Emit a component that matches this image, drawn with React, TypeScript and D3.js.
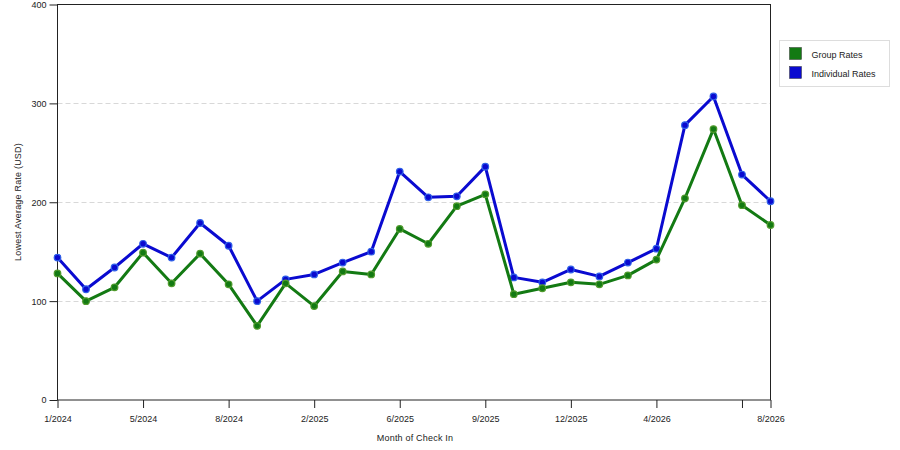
import { useEffect, useRef } from "react";
import * as d3 from "d3";

const months = [
  "1/2024", "3/2024", "4/2024", "5/2024", "6/2024", "7/2024", "8/2024",
  "10/2024", "12/2024", "2/2025", "3/2025", "5/2025", "6/2025", "7/2025",
  "8/2025", "9/2025", "10/2025", "11/2025", "12/2025", "1/2026", "3/2026",
  "4/2026", "5/2026", "6/2026", "7/2026", "8/2026",
];

const groupRates = [
  128, 100, 114, 149, 118, 148, 117, 75, 118, 95, 130, 127, 173, 158, 196,
  208, 107, 113, 119, 117, 126, 142, 204, 274, 197, 177,
];

const individualRates = [
  144, 112, 134, 158, 144, 179, 156, 100, 122, 127, 139, 150, 231, 205, 206,
  236, 124, 119, 132, 125, 139, 153, 278, 307, 228, 201,
];

const tickMonths = [
  "1/2024", "5/2024", "8/2024", "2/2025", "6/2025", "9/2025", "12/2025",
  "4/2026", "7/2026", "8/2026",
];
const hiddenTickLabels = ["7/2026"];
const yTicks = [0, 100, 200, 300, 400];

const series = [
  { name: "Individual Rates", values: individualRates, color: "#0a0ad0", dot: "#2f5fe8" },
  { name: "Group Rates", values: groupRates, color: "#137a13", dot: "#4f9a2c" },
];
const legendOrder = ["Group Rates", "Individual Rates"];

export default function App() {
  const svgRef = useRef<SVGSVGElement>(null);
  const width = 900;
  const height = 450;
  const margin = { top: 4.5, right: 130, bottom: 50, left: 57.5 };

  useEffect(() => {
    const svg = d3.select(svgRef.current);
    svg.selectAll("*").remove();
    const font = "'Liberation Sans', Arial, sans-serif";

    const x = d3
      .scalePoint<string>()
      .domain(months)
      .range([margin.left, width - margin.right + 0.5]);
    const y = d3
      .scaleLinear()
      .domain([0, 400])
      .range([height - margin.bottom, margin.top]);

    // grid
    svg
      .append("g")
      .selectAll("line")
      .data(yTicks.filter((t) => t > 0 && t < 400))
      .join("line")
      .attr("x1", margin.left)
      .attr("x2", width - margin.right)
      .attr("y1", (d) => Math.round(y(d)) + 0.5)
      .attr("y2", (d) => Math.round(y(d)) + 0.5)
      .attr("stroke", "#d8d8d8")
      .attr("stroke-dasharray", "5,3");

    // frame
    svg
      .append("rect")
      .attr("x", margin.left)
      .attr("y", margin.top)
      .attr("width", width - margin.right + 0.5 - margin.left)
      .attr("height", height - margin.bottom - margin.top)
      .attr("fill", "none")
      .attr("stroke", "#222");

    // y axis
    const yAxis = svg
      .append("g")
      .attr("transform", `translate(${margin.left},0)`)
      .call(d3.axisLeft(y).tickValues(yTicks).tickSize(8).tickPadding(3));
    yAxis.select(".domain").remove();
    yAxis.selectAll("line").attr("stroke", "#222");
    yAxis
      .selectAll("text")
      .attr("font-family", font)
      .attr("font-size", 9)
      .attr("fill", "#222");

    // x axis
    const xAxis = svg
      .append("g")
      .attr("transform", `translate(0,${height - margin.bottom})`)
      .call(
        d3
          .axisBottom(x)
          .tickValues(tickMonths)
          .tickSize(8)
          .tickPadding(8)
          .tickFormat((d) => (hiddenTickLabels.includes(d) ? "" : d))
      );
    xAxis.select(".domain").remove();
    xAxis.selectAll("line").attr("stroke", "#222");
    xAxis
      .selectAll("text")
      .attr("font-family", font)
      .attr("font-size", 9)
      .attr("fill", "#222");

    // lines + dots
    const line = d3
      .line<number>()
      .x((_, i) => x(months[i]) ?? 0)
      .y((d) => y(d));

    series.forEach((s) => {
      svg
        .append("path")
        .datum(s.values)
        .attr("d", line)
        .attr("fill", "none")
        .attr("stroke", s.color)
        .attr("stroke-width", 3)
        .attr("stroke-linejoin", "round");
      svg
        .append("g")
        .selectAll("circle")
        .data(s.values)
        .join("circle")
        .attr("cx", (_, i) => x(months[i]) ?? 0)
        .attr("cy", (d) => y(d))
        .attr("r", 3.3)
        .attr("fill", s.color)
        .attr("stroke", s.dot)
        .attr("stroke-width", 1.2);
    });

    // axis titles
    svg
      .append("text")
      .attr("x", 415)
      .attr("y", 441)
      .attr("text-anchor", "middle")
      .attr("font-family", font)
      .attr("font-size", 9)
      .attr("letter-spacing", 0.2)
      .attr("fill", "#222")
      .text("Month of Check In");

    svg
      .append("text")
      .attr("transform", "rotate(-90)")
      .attr("x", -202)
      .attr("y", 21)
      .attr("text-anchor", "middle")
      .attr("font-family", font)
      .attr("font-size", 9)
      .attr("letter-spacing", 0.2)
      .attr("fill", "#222")
      .text("Lowest Average Rate (USD)");

    // legend
    const legend = svg.append("g").attr("transform", "translate(779.5,40.5)");
    legend
      .append("rect")
      .attr("width", 110)
      .attr("height", 46)
      .attr("fill", "#fff")
      .attr("stroke", "#ddd");
    legendOrder.forEach((name, i) => {
      const s = series.find((d) => d.name === name)!;
      const row = legend.append("g").attr("transform", `translate(10,${7 + i * 19})`);
      row
        .append("rect")
        .attr("width", 12)
        .attr("height", 12)
        .attr("fill", s.color)
        .attr("stroke", "#333")
        .attr("stroke-width", 0.5);
      row
        .append("text")
        .attr("x", 22)
        .attr("y", 10)
        .attr("font-family", font)
        .attr("font-size", 9)
        .attr("fill", "#222")
        .text(name);
    });
  }, []);

  return (
    <svg
      ref={svgRef}
      width={width}
      height={height}
      style={{ position: "absolute", left: 0, top: 0, background: "#fff" }}
    />
  );
}
